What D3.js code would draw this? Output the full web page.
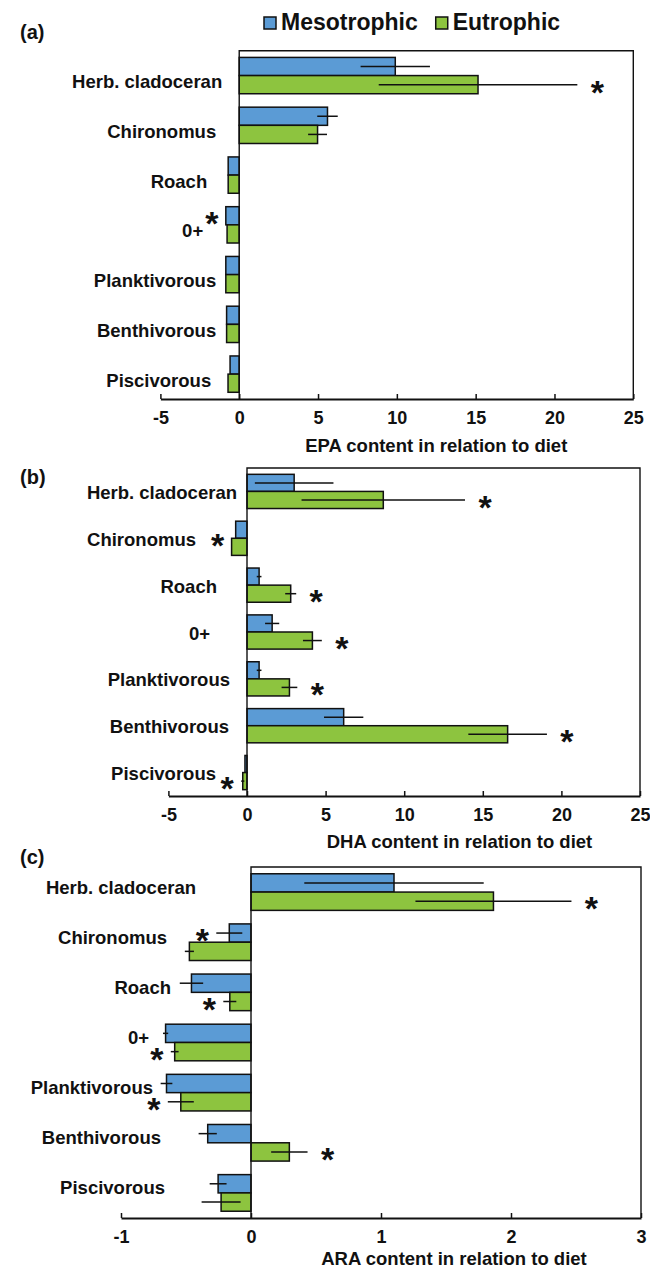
<!DOCTYPE html>
<html>
<head>
<meta charset="utf-8">
<script src="https://cdn.jsdelivr.net/npm/d3@7"></script>
<style>
  body { margin: 0; background: #fff; }
  text { font-family: "Liberation Sans", Arial, sans-serif; font-weight: bold; fill: #111; }
</style>
</head>
<body>
<svg id="chart" width="650" height="1270"></svg>
<script>
const categories = ["Herb. cladoceran", "Chironomus", "Roach", "0+", "Planktivorous", "Benthivorous", "Piscivorous"];
const series = ["Mesotrophic", "Eutrophic"];

// EPA
const epaMeso = [9.9, 5.6, -0.7, -0.85, -0.85, -0.8, -0.58];
const epaMesoErr = [2.2, 0.65, 0, 0, 0, 0, 0];
const epaEu = [15.15, 4.97, -0.7, -0.77, -0.85, -0.8, -0.71];
const epaEuErr = [6.3, 0.6, 0, 0, 0, 0, 0];
const epaSig = ["e", null, null, "m", null, null, null];
const epaTicks = [-5, 0, 5, 10, 15, 20, 25];

// DHA
const dhaMeso = [3.0, -0.72, 0.77, 1.6, 0.77, 6.15, -0.13];
const dhaMesoErr = [2.5, 0, 0.15, 0.45, 0.15, 1.25, 0];
const dhaEu = [8.67, -0.98, 2.78, 4.16, 2.7, 16.58, -0.27];
const dhaEuErr = [5.2, 0, 0.35, 0.6, 0.5, 2.5, 0.1];
const dhaSig = ["e", "c", "e", "e", "e", "e", "e"];
const dhaTicks = [-5, 0, 5, 10, 15, 20, 25];

// ARA
const araMeso = [1.10, -0.167, -0.458, -0.657, -0.65, -0.333, -0.253];
const araMesoErr = [0.69, 0.1, 0.09, 0.02, 0.045, 0.07, 0.065];
const araEu = [1.865, -0.474, -0.163, -0.587, -0.54, 0.295, -0.23];
const araEuErr = [0.6, 0.035, 0.05, 0.03, 0.1, 0.14, 0.15];
const araSig = ["e", "m", "e", "e", "e", "e", null];
const araTicks = [-1, 0, 1, 2, 3];

// label distance (px) from the zero line, per panel
const labelGapA = [17, 23, 32, 36, 23, 23, 28];
const labelGapB = [10, 51, 30, 37, 17, 18, 31];
const labelGapC = [55, 84, 80, 102, 98, 90, 86];

const color = d3.scaleOrdinal().domain(series).range(["#5b9bd5", "#8dc43f"]);

const svg = d3.select("#chart");

const panels = [
  { letter: "(a)", title: "EPA content in relation to diet", meso: epaMeso, mesoErr: epaMesoErr, eu: epaEu, euErr: epaEuErr,
    sig: epaSig, ticks: epaTicks, domain: [-5, 25], xr: [160.4, 633.3], top: 50.7, bottom: 399, letterY: 32,
    labelGap: labelGapA, labelDy: 6, titleDx: 0, titleDy: 53 },
  { letter: "(b)", title: "DHA content in relation to diet", meso: dhaMeso, mesoErr: dhaMesoErr, eu: dhaEu, euErr: dhaEuErr,
    sig: dhaSig, ticks: dhaTicks, domain: [-5, 25], xr: [168.4, 640], top: 468, bottom: 796, letterY: 477,
    labelGap: labelGapB, labelDy: 1, titleDx: 16, titleDy: 52 },
  { letter: "(c)", title: "ARA content in relation to diet", meso: araMeso, mesoErr: araMesoErr, eu: araEu, euErr: araEuErr,
    sig: araSig, ticks: araTicks, domain: [-1, 3], xr: [121, 641], top: 867, bottom: 1218, letterY: 857,
    labelGap: labelGapC, labelDy: -5, titleDx: 8, titleDy: 47 }
];

function drawPanel(p) {
  const g = svg.append("g");
  const x = d3.scaleLinear().domain(p.domain).range(p.xr);
  const y = d3.scaleBand().domain(categories).range([p.top, p.bottom]).paddingInner(0.27).paddingOuter(0.135);
  const ys = d3.scaleBand().domain(series).range([0, y.bandwidth()]);

  const rows = categories.map((c, i) => ({
    cat: c, i,
    bars: [
      { s: series[0], v: p.meso[i], e: p.mesoErr[i] },
      { s: series[1], v: p.eu[i], e: p.euErr[i] }
    ]
  }));

  // bars
  const grp = g.selectAll("g.cat").data(rows).join("g")
    .attr("transform", d => `translate(0,${y(d.cat)})`);
  grp.selectAll("rect").data(d => d.bars).join("rect")
    .attr("x", d => x(Math.min(0, d.v)))
    .attr("y", d => ys(d.s))
    .attr("width", d => Math.abs(x(d.v) - x(0)))
    .attr("height", ys.bandwidth())
    .attr("fill", d => color(d.s))
    .attr("stroke", "#111")
    .attr("stroke-width", 1.5);
  grp.selectAll("line.err").data(d => d.bars.filter(b => b.e > 0)).join("line")
    .attr("class", "err")
    .attr("x1", d => x(d.v - d.e))
    .attr("x2", d => x(d.v + d.e))
    .attr("y1", d => ys(d.s) + ys.bandwidth() / 2)
    .attr("y2", d => ys(d.s) + ys.bandwidth() / 2)
    .attr("stroke", "#111")
    .attr("stroke-width", 1.5);

  // frame (top, right, left at zero) and bottom axis
  const x0 = x(0), x1 = x(p.domain[1]);
  g.append("path")
    .attr("d", `M${x0},${p.bottom}V${p.top}H${x1}V${p.bottom}`)
    .attr("fill", "none").attr("stroke", "#111").attr("stroke-width", 1.4);
  const axis = g.append("g").attr("transform", `translate(0,${p.bottom})`)
    .call(d3.axisBottom(x).tickValues(p.ticks).tickSizeInner(-5).tickSizeOuter(0).tickPadding(0).tickFormat(d3.format("d")));
  axis.select(".domain").attr("stroke", "#111").attr("stroke-width", 1.8);
  axis.selectAll(".tick line").attr("stroke", "#111").attr("stroke-width", 1.5);
  axis.selectAll(".tick text")
    .attr("y", 25).attr("dy", null)
    .style("font-size", "18px")
    .text(d => d < 0 ? "-" + Math.abs(d) : d);
  axis.attr("font-family", null).attr("font-size", null);

  // axis title
  g.append("text")
    .attr("x", (x0 + x1) / 2 + p.titleDx)
    .attr("y", p.bottom + p.titleDy)
    .attr("text-anchor", "middle")
    .style("font-size", "18.5px")
    .text(p.title);

  // category labels
  g.selectAll("text.cat").data(rows).join("text")
    .attr("class", "cat")
    .attr("x", d => x0 - p.labelGap[d.i])
    .attr("y", d => y(d.cat) + y.bandwidth() / 2 + p.labelDy + 6.5)
    .attr("text-anchor", "end")
    .style("font-size", "18.5px")
    .text(d => d.cat);

  // significance stars
  const stars = rows.filter(d => p.sig[d.i]).map(d => {
    const k = p.sig[d.i];
    let b, cy;
    if (k === "c") {
      b = d.bars[0].v < d.bars[1].v ? d.bars[0] : d.bars[1];
      cy = y(d.cat) + y.bandwidth() / 2;
    } else {
      b = k === "m" ? d.bars[0] : d.bars[1];
      cy = y(d.cat) + ys(b.s) + ys.bandwidth() / 2;
    }
    const end = b.v >= 0 ? x(b.v + b.e) + 20 : x(b.v - b.e) - 14;
    return { cx: end, cy };
  });
  g.selectAll("text.star").data(stars).join("text")
    .attr("class", "star")
    .attr("x", d => d.cx)
    .attr("y", d => d.cy + 19)
    .attr("text-anchor", "middle")
    .style("font-size", "34px")
    .text("*");

  // panel letter
  g.append("text")
    .attr("x", 20)
    .attr("y", p.letterY + 7)
    .style("font-size", "20px")
    .text(p.letter);
}

panels.forEach(drawPanel);

// legend
const legend = svg.append("g").attr("transform", "translate(264,0)");
let lx = 0;
series.forEach(s => {
  legend.append("rect")
    .attr("x", lx).attr("y", 17).attr("width", 12).attr("height", 12)
    .attr("fill", color(s)).attr("stroke", "#111").attr("stroke-width", 1.5);
  const t = legend.append("text")
    .attr("x", lx + 17).attr("y", 30)
    .style("font-size", "23px")
    .text(s);
  lx += 17 + t.node().getComputedTextLength() + 18;
});
</script>
</body>
</html>
